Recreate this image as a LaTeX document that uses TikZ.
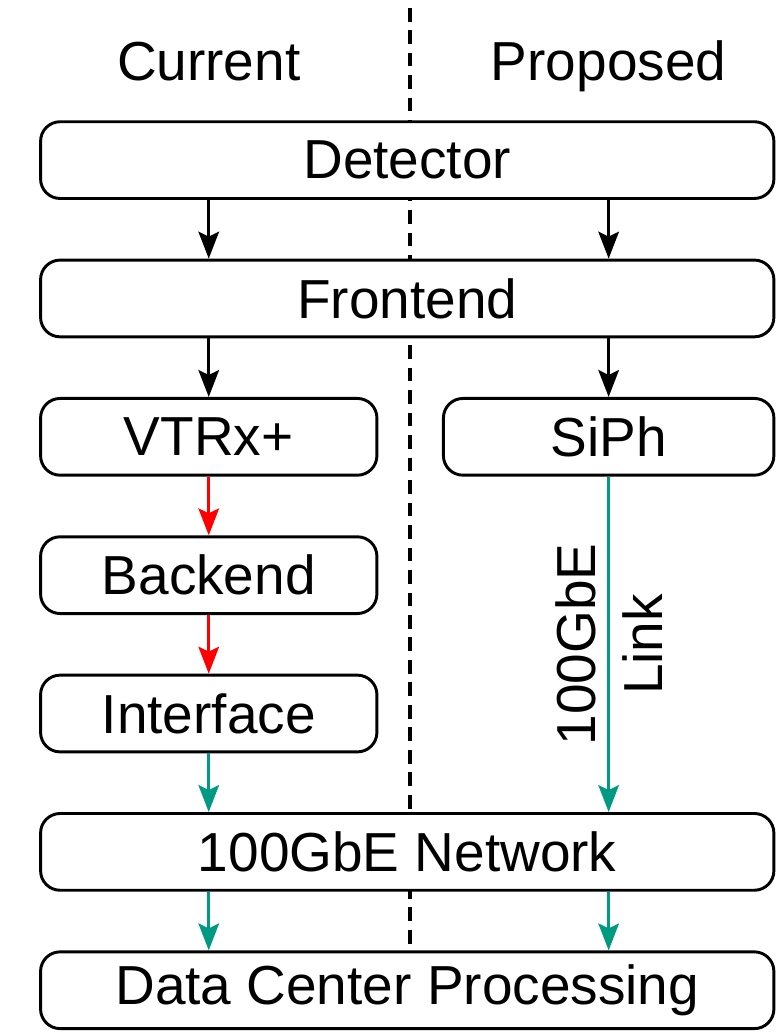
\documentclass[tikz,border=0pt]{standalone}
\usepackage{fontspec}
\setmainfont{Liberation Sans}
\usepackage{tikz}
\usetikzlibrary{arrows.meta,positioning,calc,backgrounds}
\definecolor{linkred}{HTML}{FF0000}
\definecolor{linkteal}{HTML}{009A82}
\tikzset{
  box/.style={rectangle, draw=black, fill=white, rounded corners=0.4cm, line width=0.06cm,
    align=center, minimum width=#1, minimum height=1.57cm, inner sep=0pt,
    font=\fontsize{32}{39}\selectfont},
  box/.default=15cm,
  hdr/.style={font=\fontsize{32}{39}\selectfont, inner sep=0pt},
  flow/.style={-{Stealth[length=0.55cm,width=0.42cm,inset=0.1cm]}, line width=0.06cm, draw=#1},
  flow/.default=black,
  divider/.style={draw=black, line width=0.07cm, dash pattern=on 0.28cm off 0.18cm},
}

\begin{document}
\begin{tikzpicture}[node distance=1.2cm]
    \node[box] (det) {Detector};
    \node[box, below=of det] (fe) {Frontend};

    \node[box=6.88cm, below=of fe.south west, anchor=north west] (vtrx) {VTRx+};
    \node[box=6.76cm, below=of fe.south east, anchor=north east] (siph) {SiPh};
    \node[box=6.88cm, below=of vtrx] (back) {Backend};
    \node[box=6.88cm, below=of back] (iface) {Interface};

    \node[box, below=of iface.south west, anchor=north west] (net) {100GbE Network};
    \node[box, below=of net] (dc) {Data Center Processing};

    \node[hdr, anchor=base] (cur) at ([yshift=0.82cm]det.north -| vtrx) {Current};
    \node[hdr, anchor=base] (prop) at ([yshift=0.82cm]det.north -| siph) {Proposed};

    \coordinate (mid) at ($(vtrx.east)!0.5!(siph.west)$);
    \coordinate (top) at ([yshift=2.3cm]det.north -| mid);
    \begin{scope}[on background layer]
      \draw[divider] (top) -- (dc.north -| mid);
    \end{scope}

    \draw[flow] (det.south -| vtrx) -- (fe.north -| vtrx);
    \draw[flow] (det.south -| siph) -- (fe.north -| siph);
    \draw[flow] (fe.south -| vtrx) -- (vtrx);
    \draw[flow] (fe.south -| siph) -- (siph);
    \draw[flow=linkred] (vtrx) -- (back);
    \draw[flow=linkred] (back) -- (iface);
    \draw[flow=linkteal] (iface) -- (net.north -| iface);
    \draw[flow=linkteal] (siph) -- node[hdr, rotate=90, align=center] (linklbl) {100GbE\\Link} (net.north -| siph);
    \draw[flow=linkteal] (net.south -| vtrx) -- (dc.north -| vtrx);
    \draw[flow=linkteal] (net.south -| siph) -- (dc.north -| siph);

    \useasboundingbox ([xshift=-0.8cm,yshift=2.46cm]det.north west) rectangle ([xshift=0.02cm,yshift=-0.06cm]dc.south east);
  \end{tikzpicture}
\end{document}
